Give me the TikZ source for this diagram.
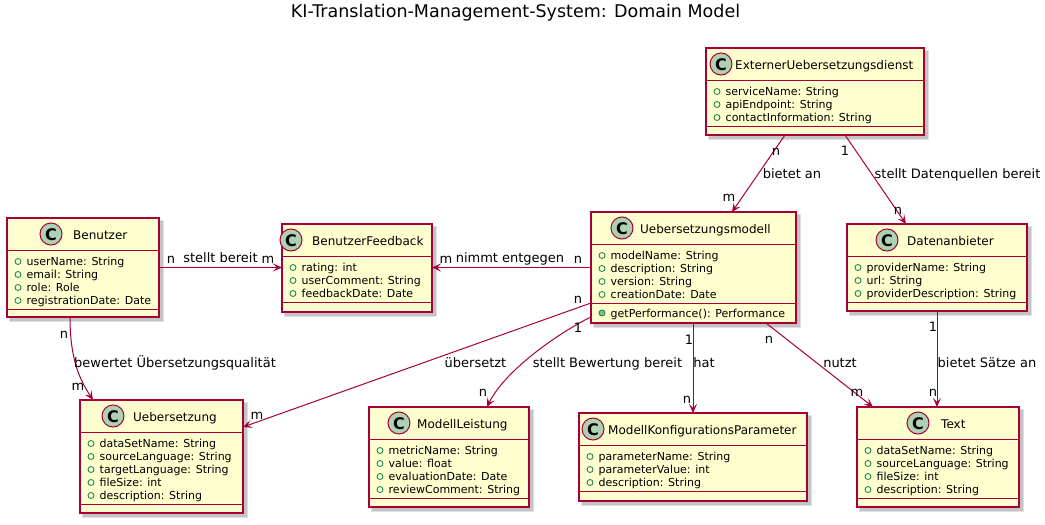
\documentclass[tikz,border=0pt]{standalone}
\usepackage{fontspec}
\setmainfont{DejaVu Sans}
\usetikzlibrary{calc,arrows.meta}
\definecolor{umlred}{HTML}{A80036}
\definecolor{umlfill}{HTML}{FEFECE}
\definecolor{umlcirc}{HTML}{ADD1B2}
\definecolor{iconline}{HTML}{038048}
\definecolor{iconfill}{HTML}{84BE84}
\tikzset{
  classnode/.style={draw=umlred, fill=umlfill, line width=1.5pt, rectangle, inner sep=0pt, outer sep=0pt},
  sepline/.style={draw=umlred, line width=1.5pt},
  circ/.style={draw=umlred, fill=umlcirc, line width=1pt},
  cletter/.style={inner sep=0pt, font=\fontsize{16}{16}\selectfont\bfseries},
  cname/.style={inner sep=0pt, anchor=base west, font=\fontsize{12}{14}\selectfont},
  attrtext/.style={inner sep=0pt, anchor=base west, font=\fontsize{11}{13}\selectfont},
  fieldicon/.style={draw=iconline, line width=0.8pt},
  methodicon/.style={draw=iconline, fill=iconfill, line width=0.8pt},
  assoc/.style={draw=umlred, line width=1pt, -{Stealth[length=9pt,width=8pt,inset=4pt]}},
  elabel/.style={inner sep=0pt, anchor=base, font=\fontsize{13}{15}\selectfont},
  shadowa/.style={fill=black, opacity=0.12},
}
\newcommand\classbox[9]{%
  \fill[shadowa] (#2+2,#3+2) rectangle (#4+5,#5+5);
  \fill[shadowa] (#2+3,#3+3) rectangle (#4+4,#5+4);
  \node[classnode, minimum width={#4-#2}, minimum height={#5-#3}, anchor=north west] (#1) at (#2,#3) {};
  \draw[sepline] (#2,#3+32.5) -- (#4,#3+32.5);
  \draw[circ] (#6,#3+16) circle[radius=11pt];
  \node[cletter] (#1-c) at (#6,#3+16.5) {C};
  \node[cname] (#1-name) at (#7,#3+21.5) {#8};
  \foreach \a [count=\k] in {#9} {%
    \draw[fieldicon] (#2+11,#3+32.5+11+13*\k-13) circle[radius=3pt];
    \node[attrtext] (#1-a\k) at (#2+19.5,#3+32.5+15+13*\k-13) {\a};
    \xdef\nattr{\k}%
  }
  \draw[sepline] (#2,#3+39.5+13*\nattr) -- (#4,#3+39.5+13*\nattr);
}
\begin{document}
\begin{tikzpicture}[x=1pt,y=-1pt]
\fill[white] (0,0) rectangle (1045,525);
\useasboundingbox (0,0) rectangle (1045,525);

\node[inner sep=0pt, anchor=base, font=\fontsize{17.5}{20}\selectfont] (title) at (515.5,17.5) {KI-Translation-Management-System: Domain Model};

\classbox{benutzer}{7}{218}{159}{317}{51}{73}{Benutzer}{userName: String,email: String,role: Role,registrationDate: Date}
\classbox{bfeedback}{282}{224}{432}{312}{291}{312}{BenutzerFeedback}{rating: int,userComment: String,feedbackDate: Date}
\classbox{umodell}{591}{212}{796}{323}{622}{640}{Uebersetzungsmodell}{modelName: String,description: String,version: String,creationDate: Date}
\draw[methodicon] (602,313) circle[radius=3pt];
\node[attrtext] (umodell-m1) at (610.5,317) {getPerformance(): Performance};
\classbox{ext}{706}{48}{924}{135}{721}{735}{ExternerUebersetzungsdienst}{serviceName: String,apiEndpoint: String,contactInformation: String}
\classbox{daten}{847}{224}{1027}{311}{887}{907}{Datenanbieter}{providerName: String,url: String,providerDescription: String}
\classbox{uebers}{80}{400}{243}{513}{113}{133}{Uebersetzung}{dataSetName: String,sourceLanguage: String,targetLanguage: String,fileSize: int,description: String}
\classbox{mleistung}{369}{407}{529}{507}{399}{417}{ModellLeistung}{metricName: String,value: float,evaluationDate: Date,reviewComment: String}
\classbox{mkp}{579}{413}{807}{501}{593}{608}{ModellKonfigurationsParameter}{parameterName: String,parameterValue: int,description: String}
\classbox{textc}{857}{407}{1019}{507}{918}{941}{Text}{dataSetName: String,sourceLanguage: String,fileSize: int,description: String}

% connectors
\draw[assoc] ($(ext.south west)+(79,0)$) -- ($(umodell.north west)+(141,0)$);
\draw[assoc] ($(ext.south west)+(139,0)$) -- ($(daten.north west)+(59,0)$);
\draw[assoc] (benutzer.east) -- (benutzer.east -| bfeedback.west);
\draw[assoc] (umodell.west) -- (umodell.west -| bfeedback.east);
\draw[assoc] ($(umodell.north west)+(0,91)$) -- ($(uebers.north east)+(0,27)$);
\draw[assoc] ($(umodell.north west)+(0,105)$) .. controls +(-31,15) and +(18,-37) .. ($(mleistung.north west)+(118,0)$);
\draw[assoc] ($(benutzer.south west)+(63,0)$) .. controls +(0,43) and +(-13,-20) .. ($(uebers.north west)+(13,0)$);
\draw[assoc] ($(umodell.south west)+(102,0)$) -- ($(mkp.north west)+(114,0)$);
\draw[assoc] ($(umodell.south west)+(175,0)$) -- ($(textc.north west)+(16,0)$);
\draw[assoc] ($(daten.south west)+(90,0)$) -- ($(textc.north west)+(80,0)$);

% labels
\node[elabel] (l1a) at (776,155) {n};
\node[elabel] (l1b) at (792,178) {bietet an};
\node[elabel] (l1c) at (729,201) {m};
\node[elabel] (l2a) at (845,155) {1};
\node[elabel] (l2b) at (957.5,178) {stellt Datenquellen bereit};
\node[elabel] (l2c) at (898,214) {n};
\node[elabel] (l3a) at (171,263) {n};
\node[elabel] (l3b) at (220.5,262) {stellt bereit};
\node[elabel] (l3c) at (268,263) {m};
\node[elabel] (l4a) at (446,263) {m};
\node[elabel] (l4b) at (510,262) {nimmt entgegen};
\node[elabel] (l4c) at (578,263) {n};
\node[elabel] (l5a) at (578,303) {n};
\node[elabel] (l5b) at (475.5,367) {übersetzt};
\node[elabel] (l5c) at (257,419) {m};
\node[elabel] (l6a) at (578,332) {1};
\node[elabel] (l6b) at (607.5,367) {stellt Bewertung bereit};
\node[elabel] (l6c) at (483,396) {n};
\node[elabel] (l7a) at (64,338) {n};
\node[elabel] (l7b) at (175,367) {bewertet Übersetzungsqualität};
\node[elabel] (l7c) at (78,390) {m};
\node[elabel] (l8a) at (689,344) {1};
\node[elabel] (l8b) at (704,367) {hat};
\node[elabel] (l8c) at (687,403) {n};
\node[elabel] (l9a) at (769,343) {n};
\node[elabel] (l9b) at (840,367) {nutzt};
\node[elabel] (l9c) at (857,396) {m};
\node[elabel] (l10a) at (933,331) {1};
\node[elabel] (l10b) at (987,367) {bietet Sätze an};
\node[elabel] (l10c) at (933,396) {n};
\end{tikzpicture}
\end{document}
